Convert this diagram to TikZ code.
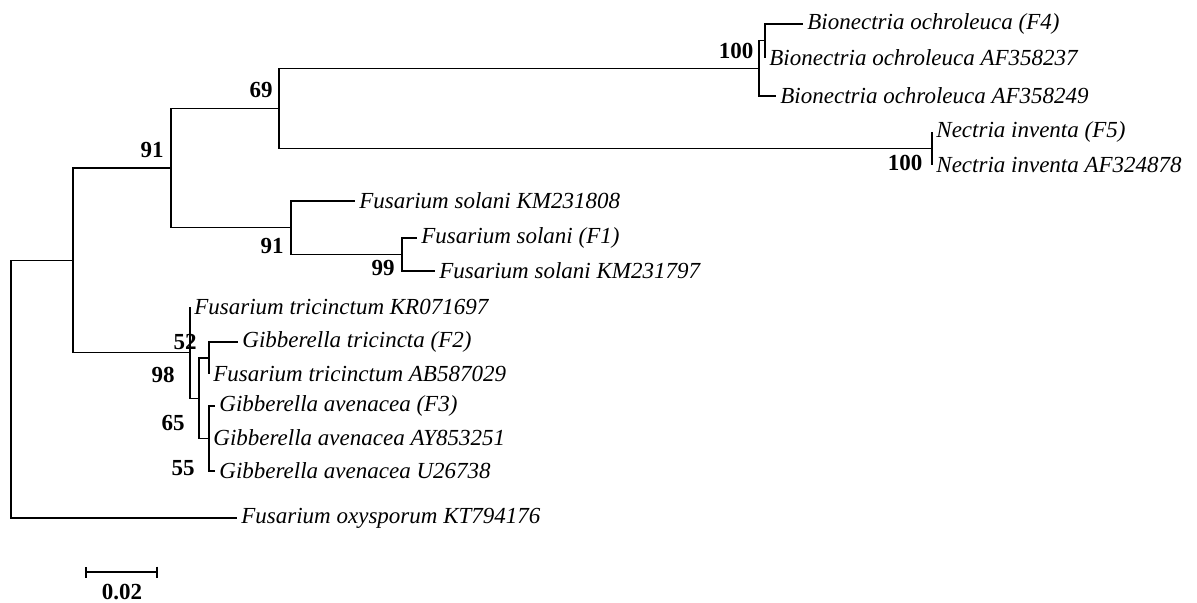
\documentclass[tikz,border=0pt]{standalone}
\usepackage{fontspec}
\setmainfont{Liberation Serif}
\usetikzlibrary{positioning, arrows.meta}

\begin{document}
\begin{tikzpicture}[
  x=0.5pt, y=-0.5pt,
  branch/.style={line width=0.7pt},
  leaf/.style={anchor=west, inner xsep=2pt, inner ysep=0pt,
               font=\fontsize{11.5}{13}\selectfont\itshape},
  boot/.style={font=\fontsize{11.5}{13}\selectfont\bfseries, inner sep=0pt},
  sbar/.style={line width=1.2pt, {Bar[width=5.5pt]}-{Bar[width=5.5pt]}},
]
\useasboundingbox (0,0) rectangle (1197,602);

\coordinate (nRoot) at (11, 389);
\coordinate (nA) at (73, 260.2);
\coordinate (nB) at (171, 168);
\coordinate (nC) at (279, 108.4);
\coordinate (nBio) at (759, 68.25);
\coordinate (nBi) at (765, 40.5);
\coordinate (nNec) at (932, 148.5);
\coordinate (nD) at (291, 227.75);
\coordinate (nE) at (402, 254.5);
\coordinate (nF) at (190, 352.6);
\coordinate (nG) at (199, 398.25);
\coordinate (nH) at (209, 358);
\coordinate (nI) at (209, 438.5);

\node[leaf] (bo4) at (803, 24) {Bionectria ochroleuca (F4)};
\node[leaf] (bo37) at (765, 58) {Bionectria ochroleuca AF358237};
\node[leaf] (bo49) at (776, 96) {Bionectria ochroleuca AF358249};
\node[leaf] (ne5) at (932, 132) {Nectria inventa (F5)};
\node[leaf] (ne78) at (932, 165) {Nectria inventa AF324878};
\node[leaf] (km08) at (355, 201) {Fusarium solani KM231808};
\node[leaf] (fs1) at (417, 238) {Fusarium solani (F1)};
\node[leaf] (km97) at (435, 271) {Fusarium solani KM231797};
\node[leaf] (kr) at (190, 307) {Fusarium tricinctum KR071697};
\node[leaf] (gt2) at (238, 342) {Gibberella tricincta (F2)};
\node[leaf] (ab) at (209, 374) {Fusarium tricinctum AB587029};
\node[leaf] (ga3) at (215, 406) {Gibberella avenacea (F3)};
\node[leaf] (ay) at (209, 438) {Gibberella avenacea AY853251};
\node[leaf] (u26) at (215, 471) {Gibberella avenacea U26738};
\node[leaf] (oxy) at (237, 518) {Fusarium oxysporum KT794176};

\draw[branch] (nRoot) |- (nA);
\draw[branch] (nRoot) |- (oxy.west);
\draw[branch] (nA) |- (nB);
\draw[branch] (nA) |- (nF);
\draw[branch] (nB) |- (nC);
\draw[branch] (nB) |- (nD);
\draw[branch] (nC) |- (nBio);
\draw[branch] (nC) |- (nNec);
\draw[branch] (nBio) |- (nBi);
\draw[branch] (nBio) |- (bo49.west);
\draw[branch] (nBi) |- (bo4.west);
\draw[branch] (nBi) |- (bo37.west);
\draw[branch] (nNec) |- (ne5.west);
\draw[branch] (nNec) |- (ne78.west);
\draw[branch] (nD) |- (km08.west);
\draw[branch] (nD) |- (nE);
\draw[branch] (nE) |- (fs1.west);
\draw[branch] (nE) |- (km97.west);
\draw[branch] (nF) |- (kr.west);
\draw[branch] (nF) |- (nG);
\draw[branch] (nG) |- (nH);
\draw[branch] (nG) |- (nI);
\draw[branch] (nH) |- (gt2.west);
\draw[branch] (nH) |- (ab.west);
\draw[branch] (nI) |- (ga3.west);
\draw[branch] (nI) |- (ay.west);
\draw[branch] (nI) |- (u26.west);

\node[boot] (bB) at (152, 150) {91};
\node[boot] (bC) at (261, 90) {69};
\node[boot] (bBio) at (736, 51) {100};
\node[boot] (bNec) at (905, 163) {100};
\node[boot] (bD) at (272, 246) {91};
\node[boot] (bE) at (383, 268) {99};
\node[boot] (bF) at (185, 342) {52};
\node[boot] (bA2) at (163, 375) {98};
\node[boot] (bG) at (173, 423) {65};
\node[boot] (bI) at (183, 468) {55};

\coordinate (sbL) at (85, 572);
\coordinate (sbR) at (158, 572);
\draw[sbar] (sbL) -- (sbR);
\node[boot] (sbt) at (122, 592) {0.02};
\end{tikzpicture}
\end{document}
